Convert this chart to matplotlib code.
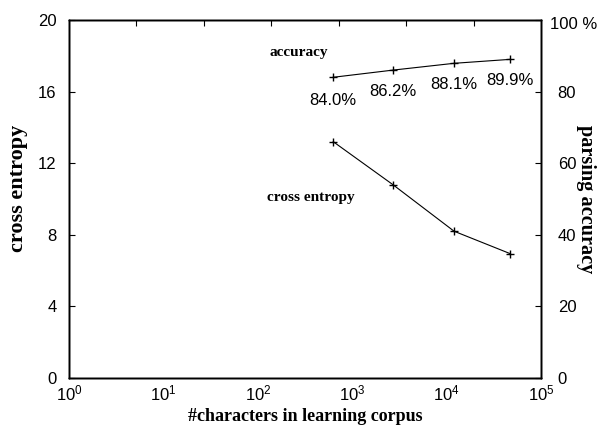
import matplotlib
matplotlib.use('Agg')
import matplotlib.pyplot as plt

# corpus sizes (#characters) and measured values
corpus_size = [630, 2700, 12000, 47000]
cross_entropy = [13.2, 10.8, 8.2, 6.95]
accuracy = [84.0, 86.0, 87.9, 89.0]
acc_labels = ['84.0%', '86.2%', '88.1%', '89.9%']

left_ticks = [0, 4, 8, 12, 16, 20]
right_ticks = [0, 20, 40, 60, 80, 100]
right_ticklabels = ['0', '20', '40', '60', '80', '']
x_ticks = [1, 10, 100, 1000, 10000, 100000]
x_ticklabels = [r'$10^{%d}$' % i for i in range(6)]

plt.rcParams['font.family'] = 'Liberation Sans'
plt.rcParams['mathtext.fontset'] = 'custom'
plt.rcParams['mathtext.rm'] = 'Liberation Sans'
plt.rcParams['mathtext.it'] = 'Liberation Sans'

serif_bold = dict(family='Liberation Serif', weight='bold')

fig = plt.figure(figsize=(5.98, 4.28), dpi=100)
ax = fig.add_axes([0.1154, 0.1168, 0.7893, 0.8365])

ax.plot(corpus_size, cross_entropy, color='black', marker='+', markersize=6, linewidth=0.8)
ax.set_xscale('log')
ax.set_xlim(1, 1e5)
ax.set_ylim(0, 20)
ax.set_xticks(x_ticks)
ax.set_xticklabels(x_ticklabels)
ax.xaxis.set_minor_locator(matplotlib.ticker.NullLocator())
ax.set_yticks(left_ticks)
ax.tick_params(axis='x', length=0, labelsize=12, pad=4)
ax.tick_params(axis='y', direction='in', length=4, labelsize=12, pad=9)
ax.set_xlabel('#characters in learning corpus', fontsize=13, labelpad=3, **serif_bold)
ax.set_ylabel('cross entropy', fontsize=16)
ax.yaxis.label.set(**serif_bold)
ax.yaxis.set_label_coords(-0.087, 0.53)

ax2 = ax.twinx()
ax2.plot(corpus_size, accuracy, color='black', marker='+', markersize=6, linewidth=0.8)
ax2.set_ylim(0, 100)
ax2.set_yticks(right_ticks)
ax2.set_yticklabels(right_ticklabels)
ax2.tick_params(axis='y', direction='in', length=4, labelsize=12, pad=12)
ax2.set_ylabel('parsing accuracy', fontsize=14.6, rotation=-90)
ax2.yaxis.label.set(**serif_bold)
ax2.yaxis.set_label_coords(1.116, 0.5)

# top label "100 %" sits closer to the frame and a bit lower
ax2.annotate('100 %', xy=(1, 100), xycoords=('axes fraction', 'data'),
             xytext=(6.5, -3.6), textcoords='offset points',
             ha='left', va='center', fontsize=12)

# top ticks of the frame
ax3 = ax.twiny()
ax3.set_xlim(0, 7)
ax3.set_xticks([1, 2, 3, 4, 5, 6])
ax3.set_xticklabels([])
ax3.tick_params(axis='x', direction='in', length=4)

offsets = [(0, -17), (0, -15.5), (0, -15), (0, -15)]
for x, y, t, off in zip(corpus_size, accuracy, acc_labels, offsets):
    ax2.annotate(t, (x, y), xytext=off, textcoords='offset points',
                 ha='center', va='center', fontsize=12)

ax2.text(270, 91, 'accuracy', ha='center', va='center', fontsize=11, **serif_bold)
ax.text(1070, 10.1, 'cross entropy', ha='right', va='center', fontsize=11, **serif_bold)

for a in (ax, ax2, ax3):
    for s in a.spines.values():
        s.set_linewidth(1.0)

fig.savefig('out.png', dpi=100)
